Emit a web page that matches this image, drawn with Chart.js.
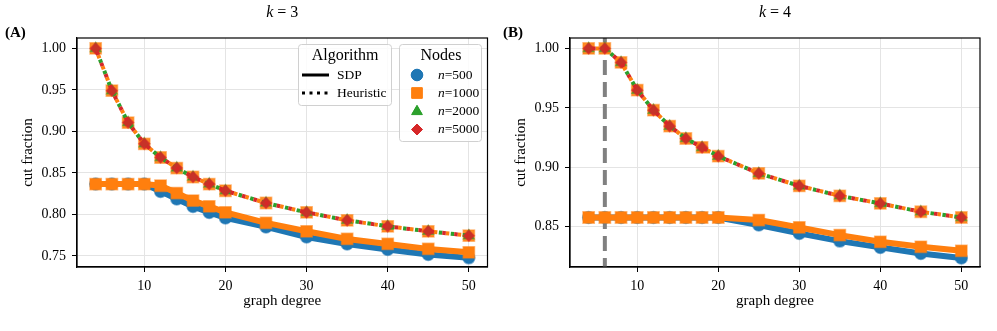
<!DOCTYPE html>
<html><head><meta charset="utf-8">
<script src="https://cdn.jsdelivr.net/npm/chart.js@4.4.0/dist/chart.umd.min.js"></script>
<style>
html,body{margin:0;padding:0;background:#fff;}
#wrap{position:relative;width:997px;height:331px;overflow:hidden;background:#fff;}
canvas{position:absolute;top:0;}
</style></head><body>
<div id="wrap">
<canvas id="cA" width="497" height="331" style="left:0px"></canvas>
<canvas id="cB" width="500" height="331" style="left:497px"></canvas>
</div>
<script>
// ---------------- data ----------------
const degrees = [4, 6, 8, 10, 12, 14, 16, 18, 20, 25, 30, 35, 40, 45, 50];
const yTicksA = [0.75, 0.80, 0.85, 0.90, 0.95, 1.00];
const yTicksB = [0.85, 0.90, 0.95, 1.00];
const xTicks = [10, 20, 30, 40, 50];

// k = 3
const k3_sdp_n500  = [0.8365, 0.8365, 0.8365, 0.8365, 0.8277, 0.8185, 0.8096, 0.8024, 0.7957, 0.7849, 0.7728, 0.7644, 0.7576, 0.7516, 0.7476];
const k3_sdp_n1000 = [0.8365, 0.8365, 0.8365, 0.8365, 0.8345, 0.8257, 0.8165, 0.8096, 0.8024, 0.7897, 0.7796, 0.7704, 0.7644, 0.7584, 0.7543];
const k3_heur_n1000 = [1.000, 0.949, 0.9106, 0.885, 0.8685, 0.8558, 0.845, 0.8365, 0.8285, 0.8137, 0.8024, 0.7928, 0.7856, 0.7796, 0.7744];
const k3_heur_n2000 = [1.000, 0.949, 0.9106, 0.885, 0.8685, 0.8558, 0.845, 0.8365, 0.8285, 0.8137, 0.8024, 0.7928, 0.7856, 0.7796, 0.7744];
const k3_heur_n5000 = [1.000, 0.949, 0.9106, 0.885, 0.8685, 0.8558, 0.845, 0.8365, 0.8285, 0.8137, 0.8024, 0.7928, 0.7856, 0.7796, 0.7744];

// k = 4
const k4_sdp_n500  = [0.8577, 0.8577, 0.8577, 0.8577, 0.8577, 0.8577, 0.8577, 0.8577, 0.8577, 0.8513, 0.8443, 0.8378, 0.8325, 0.8274, 0.8235];
const k4_sdp_n1000 = [0.8577, 0.8577, 0.8577, 0.8577, 0.8577, 0.8577, 0.8577, 0.8577, 0.8577, 0.8555, 0.8493, 0.8428, 0.8372, 0.8330, 0.8296];
const k4_heur_n1000 = [1.000, 1.000, 0.9882, 0.9649, 0.948, 0.9346, 0.9242, 0.9167, 0.9093, 0.8948, 0.8843, 0.8759, 0.8695, 0.8625, 0.8577];
const k4_heur_n2000 = [1.000, 1.000, 0.9882, 0.9649, 0.948, 0.9346, 0.9242, 0.9167, 0.9093, 0.8948, 0.8843, 0.8759, 0.8695, 0.8625, 0.8577];
const k4_heur_n5000 = [1.000, 1.000, 0.9882, 0.9649, 0.948, 0.9346, 0.9242, 0.9167, 0.9093, 0.8948, 0.8843, 0.8759, 0.8695, 0.8625, 0.8577];
const k4_threshold_degree = 6;

const nodeLabels = ['500', '1000', '2000', '5000'];
const algoLabels = ['SDP', 'Heuristic'];

// ---------------- styling ----------------
const FONT = "'Liberation Serif', 'DejaVu Serif', serif";
const C = {blue:'#1f77b4', orange:'#ff7f0e', green:'#2ca02c', red:'#d62728'};
const rgba = (hex, a) => { const n = parseInt(hex.slice(1), 16); return `rgba(${n>>16},${(n>>8)&255},${n&255},${a})`; };

const pts = arr => degrees.map((d, i) => ({x: d, y: arr[i]}));

function sdpSet(arr, color, style, radius, order) {
  return {data: pts(arr), borderColor: color, borderWidth: 6, tension: 0,
    pointStyle: style, pointRadius: radius, pointBackgroundColor: color,
    pointBorderColor: rgba(color, 0.55), pointBorderWidth: 1.5, order};
}
function heurSet(arr, color, style, radius, offset, order) {
  return {data: pts(arr), borderColor: color, borderWidth: 4, tension: 0,
    borderDash: [3.5, 8.5], borderDashOffset: offset, borderCapStyle: 'butt',
    pointStyle: style, pointRadius: radius, pointBackgroundColor: rgba(color, 0.9),
    pointBorderColor: rgba(color, 0.5), pointBorderWidth: 1.5, order};
}

function makeScales(yMin, yMax, yTicks, yWidth, yTitlePad) {
  return {
    x: {type: 'linear', min: 1.7, max: 52.3,
      afterFit: s => { s.height = 64; },
      afterBuildTicks: s => { s.ticks = xTicks.map(v => ({value: v})); },
      ticks: {font: {family: FONT, size: 14}, color: '#000', padding: 6, maxRotation: 0},
      grid: {color: '#e4e4e4', lineWidth: 1, tickColor: '#000', tickLength: 5, tickWidth: 1},
      border: {display: true, color: '#000', width: 1.2},
      title: {display: true, text: 'graph degree', font: {family: FONT, size: 15}, color: '#000', padding: {top: 0, bottom: 21}}
    },
    y: {type: 'linear', min: yMin, max: yMax,
      afterFit: s => { s.width = yWidth; },
      afterBuildTicks: s => { s.ticks = yTicks.map(v => ({value: v})); },
      ticks: {font: {family: FONT, size: 14}, color: '#000', padding: 6, callback: v => v.toFixed(2)},
      grid: {color: '#e4e4e4', lineWidth: 1, tickColor: '#000', tickLength: 5, tickWidth: 1},
      border: {display: true, color: '#000', width: 1.2},
      title: {display: true, text: 'cut fraction', font: {family: FONT, size: 15}, color: '#000', padding: {top: yTitlePad, bottom: 0}}
    }
  };
}

function decorPlugin(kVal, panelLabel, labelX) {
  return {
    id: 'decor' + panelLabel,
    afterDraw(chart) {
      const {ctx, chartArea: a} = chart;
      ctx.save();
      ctx.strokeStyle = '#000'; ctx.lineWidth = 1.2;
      ctx.strokeRect(a.left, a.top, a.right - a.left, a.bottom - a.top);
      ctx.fillStyle = '#000'; ctx.textBaseline = 'middle';
      const fi = `italic 16px ${FONT}`, fn = `16px ${FONT}`;
      ctx.font = fi; const w1 = ctx.measureText('k').width;
      ctx.font = fn; const rest = ' = ' + kVal; const w2 = ctx.measureText(rest).width;
      const cx = (a.left + a.right) / 2; let x0 = cx - (w1 + w2) / 2;
      ctx.textAlign = 'left';
      ctx.font = fi; ctx.fillText('k', x0, 13);
      ctx.font = fn; ctx.fillText(rest, x0 + w1, 13);
      ctx.font = `bold 15px ${FONT}`;
      ctx.fillText(panelLabel, labelX, 33);
      ctx.restore();
    }
  };
}

function roundRect(ctx, x, y, w, h, r) {
  ctx.beginPath();
  ctx.moveTo(x + r, y); ctx.lineTo(x + w - r, y); ctx.quadraticCurveTo(x + w, y, x + w, y + r);
  ctx.lineTo(x + w, y + h - r); ctx.quadraticCurveTo(x + w, y + h, x + w - r, y + h);
  ctx.lineTo(x + r, y + h); ctx.quadraticCurveTo(x, y + h, x, y + h - r);
  ctx.lineTo(x, y + r); ctx.quadraticCurveTo(x, y, x + r, y); ctx.closePath();
}

const legendPlugin = {
  id: 'legendBoxes',
  afterDraw(chart) {
    const ctx = chart.ctx;
    ctx.save();
    roundRect(ctx, 298.5, 44.5, 93, 61, 3);
    ctx.fillStyle = 'rgba(255,255,255,0.85)'; ctx.fill();
    ctx.strokeStyle = '#d0d0d0'; ctx.lineWidth = 1; ctx.stroke();
    ctx.fillStyle = '#000'; ctx.textBaseline = 'middle';
    ctx.font = `16px ${FONT}`; ctx.textAlign = 'center';
    ctx.fillText('Algorithm', 345, 56);
    ctx.textAlign = 'left'; ctx.font = `13.5px ${FONT}`;
    ctx.strokeStyle = '#000'; ctx.lineWidth = 3; ctx.lineCap = 'butt';
    ctx.beginPath(); ctx.moveTo(302, 75); ctx.lineTo(329, 75); ctx.stroke();
    ctx.fillText(algoLabels[0], 337, 75);
    ctx.setLineDash([3, 4.5]);
    ctx.beginPath(); ctx.moveTo(302, 93); ctx.lineTo(330, 93); ctx.stroke();
    ctx.setLineDash([]);
    ctx.fillText(algoLabels[1], 337, 93);
    roundRect(ctx, 399.5, 44.5, 82, 97, 3);
    ctx.fillStyle = 'rgba(255,255,255,0.85)'; ctx.fill();
    ctx.strokeStyle = '#d0d0d0'; ctx.lineWidth = 1; ctx.stroke();
    ctx.fillStyle = '#000'; ctx.font = `16px ${FONT}`; ctx.textAlign = 'center';
    ctx.fillText('Nodes', 441, 56);
    const styles = [['circle', C.blue, 5.8], ['rect', C.orange, 7.5], ['triangle', C.green, 6.2], ['rectRot', C.red, 5.5]];
    const ys = [75, 93, 111.5, 129.5];
    styles.forEach((s, i) => {
      ctx.fillStyle = s[1]; ctx.strokeStyle = s[1]; ctx.lineWidth = 1;
      Chart.helpers.drawPoint(ctx, {pointStyle: s[0], radius: s[2], borderWidth: 1, rotation: 0}, 417, ys[i]);
      ctx.fill();
      ctx.fillStyle = '#000'; ctx.textAlign = 'left';
      ctx.font = `italic 13.5px ${FONT}`; const wn = ctx.measureText('n').width;
      ctx.fillText('n', 438, ys[i]);
      ctx.font = `13.5px ${FONT}`; ctx.fillText('=' + nodeLabels[i], 438 + wn, ys[i]);
    });
    ctx.restore();
  }
};

const thresholdPlugin = {
  id: 'threshold',
  beforeDatasetsDraw(chart) {
    const {ctx, chartArea: a, scales} = chart;
    const x = scales.x.getPixelForValue(k4_threshold_degree);
    ctx.save();
    ctx.strokeStyle = '#808080'; ctx.lineWidth = 4; ctx.setLineDash([15, 7]);
    ctx.beginPath(); ctx.moveTo(x, a.top); ctx.lineTo(x, a.bottom); ctx.stroke();
    ctx.restore();
  }
};

const common = {responsive: false, animation: false, devicePixelRatio: 1,
  plugins: {legend: {display: false}, tooltip: {enabled: false}, title: {display: false}}};

new Chart(document.getElementById('cA'), {
  type: 'line',
  data: {datasets: [
    sdpSet(k3_sdp_n500, C.blue, 'circle', 6, 6),
    sdpSet(k3_sdp_n1000, C.orange, 'rect', 8, 5),
    heurSet(k3_heur_n1000, C.orange, 'rect', 8, -7, 4),
    heurSet(k3_heur_n2000, C.green, 'triangle', 6, 0, 3),
    heurSet(k3_heur_n5000, C.red, 'rectRot', 5.5, -3.5, 2),
  ]},
  options: Object.assign({}, common, {
    layout: {padding: {left: 0, right: 9, top: 38, bottom: 0}},
    scales: makeScales(0.7366, 1.0125, yTicksA, 77, 19)
  }),
  plugins: [decorPlugin(3, '(A)', 5), legendPlugin]
});

new Chart(document.getElementById('cB'), {
  type: 'line',
  data: {datasets: [
    sdpSet(k4_sdp_n500, C.blue, 'circle', 6, 6),
    sdpSet(k4_sdp_n1000, C.orange, 'rect', 8, 5),
    heurSet(k4_heur_n1000, C.orange, 'rect', 8, -7, 4),
    heurSet(k4_heur_n2000, C.green, 'triangle', 6, 0, 3),
    heurSet(k4_heur_n5000, C.red, 'rectRot', 5.5, -3.5, 2),
  ]},
  options: Object.assign({}, common, {
    layout: {padding: {left: 0, right: 17, top: 38, bottom: 0}},
    scales: makeScales(0.816, 1.0088, yTicksB, 73, 15)
  }),
  plugins: [decorPlugin(4, '(B)', 6), thresholdPlugin]
});
</script>
</body></html>
